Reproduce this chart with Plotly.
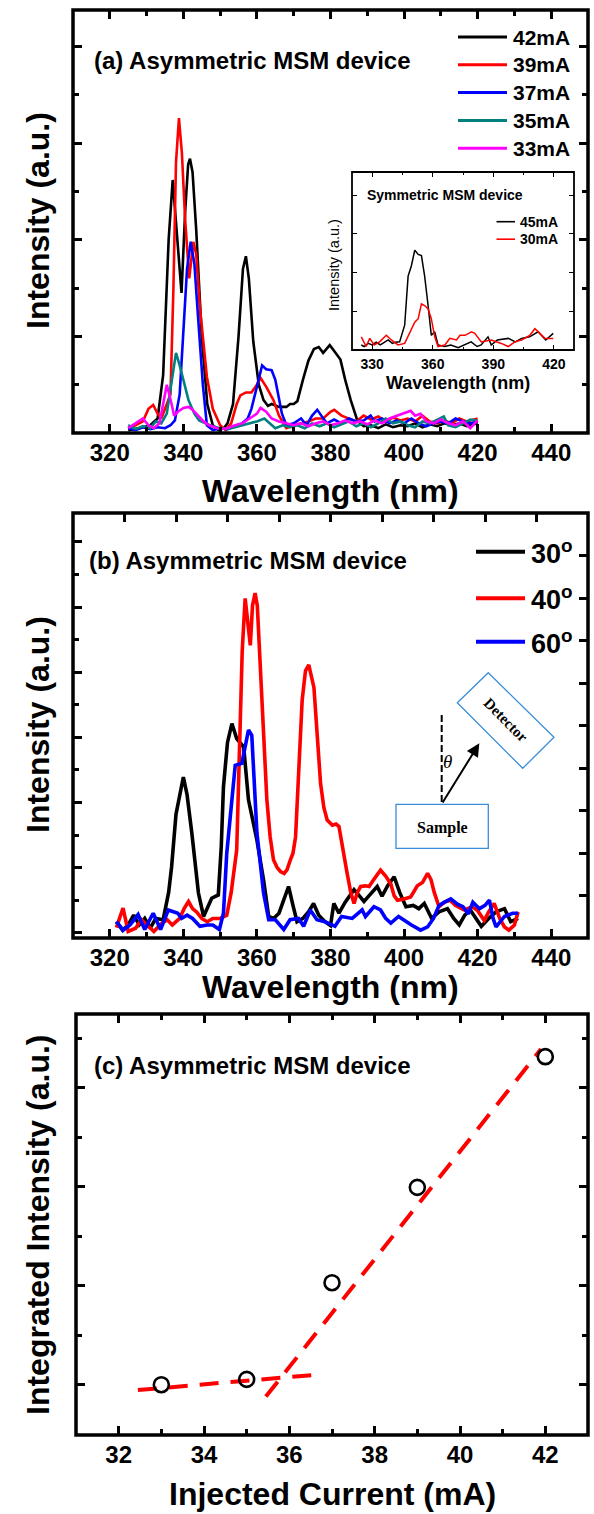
import plotly.graph_objects as go

W, H = 594, 1514
def px(x): return x / W
def py(y): return 1 - y / H

FONT = "Liberation Sans, Arial, sans-serif"
SERIF = "Liberation Serif, Times New Roman, serif"

# ---------------- Panel (a): current-dependent spectra ----------------
a_labels = ["42mA", "39mA", "37mA", "35mA", "33mA"]
a_colors = ["#000000", "#ff0000", "#0000ff", "#008080", "#ff00ff"]

wl_42 = [325, 328, 331, 333, 334.5, 336, 337.1, 338, 339.5, 340.5, 341.3, 341.8, 342.5, 343.5, 345, 346.5, 348, 349.5, 351, 352, 353.5, 355, 356.2, 357, 357.8, 359, 360.5, 361.8, 363, 364, 366, 368, 369, 370, 371, 372.5, 374, 375.5, 376.8, 378, 379.8, 381, 382.7, 384, 385.5, 387.3, 389, 391, 393, 395, 397, 399, 401, 403, 405, 407, 409, 411, 413, 415, 417, 420]
int_42 = [0.03, 0.05, 0.08, 0.15, 0.6, 2.0, 2.62, 2.2, 1.45, 2.3, 2.78, 2.84, 2.7, 2.1, 1.0, 0.3, 0.08, 0.03, 0.05, 0.1, 0.3, 1.0, 1.7, 1.83, 1.6, 0.95, 0.5, 0.34, 0.28, 0.3, 0.27, 0.27, 0.3, 0.3, 0.33, 0.55, 0.75, 0.87, 0.89, 0.83, 0.91, 0.85, 0.76, 0.55, 0.34, 0.13, 0.07, 0.08, 0.05, 0.09, 0.06, 0.08, 0.07, 0.1, 0.06, 0.09, 0.07, 0.1, 0.08, 0.1, 0.07, 0.1]

wl_39 = [325, 327, 329, 330.5, 331.8, 333, 334, 335, 336.5, 337.3, 338, 338.8, 339.6, 340.5, 341.6, 342.7, 343.5, 344.5, 346.4, 348, 350, 351.5, 353, 354.5, 355.5, 357, 358.5, 360, 361, 362.5, 364.5, 366, 368, 370, 372, 374, 376, 378, 380, 381, 383, 385, 387, 389, 391, 393, 395, 397, 399, 401, 403, 405, 407, 409, 411, 413, 415, 417, 420]
int_39 = [0.05, 0.08, 0.12, 0.25, 0.29, 0.2, 0.15, 0.25, 0.4, 1.5, 2.8, 3.26, 2.9, 2.2, 1.6, 1.98, 1.85, 1.3, 0.58, 0.25, 0.08, 0.03, 0.1, 0.3, 0.39, 0.42, 0.42, 0.5, 0.57, 0.48, 0.34, 0.18, 0.05, 0.08, 0.1, 0.12, 0.15, 0.15, 0.22, 0.24, 0.18, 0.15, 0.12, 0.18, 0.14, 0.17, 0.12, 0.16, 0.13, 0.15, 0.12, 0.18, 0.12, 0.1, 0.13, 0.1, 0.15, 0.12, 0.15]

wl_37 = [325, 327, 329, 331, 333, 335, 336.5, 337.7, 339, 340, 341, 342, 343, 344, 345.3, 346.4, 348, 350, 352, 354, 356, 357.5, 358.5, 360, 361.4, 362.5, 364, 365, 366.8, 368, 370, 372, 373.5, 375, 376.4, 377.5, 379, 381, 383, 385, 387, 389, 390.9, 392, 394, 396, 398, 400, 402, 404, 406, 408, 410, 412, 414, 416, 418, 420]
int_37 = [0.05, 0.03, 0.06, 0.04, 0.06, 0.05, 0.08, 0.13, 0.4, 1.0, 1.7, 1.98, 1.75, 1.2, 0.5, 0.08, 0.03, 0.05, 0.04, 0.07, 0.1, 0.15, 0.25, 0.48, 0.7, 0.66, 0.65, 0.55, 0.2, 0.08, 0.1, 0.15, 0.08, 0.18, 0.24, 0.18, 0.1, 0.14, 0.1, 0.15, 0.12, 0.13, 0.18, 0.12, 0.15, 0.1, 0.13, 0.1, 0.15, 0.1, 0.07, 0.1, 0.12, 0.1, 0.15, 0.12, 0.1, 0.12]

wl_35 = [325, 327, 329, 331, 332.5, 334, 335.5, 336.5, 338, 339, 340.3, 341.4, 343, 344.3, 346, 348, 350, 352, 354, 356, 358, 360, 362, 363.5, 365, 367, 369, 371, 373, 375, 377, 379, 381, 383, 385, 387, 389, 391, 393, 395, 397, 399, 401, 403, 405, 407, 409, 410.8, 412, 414, 416, 418, 420]
int_35 = [0.08, 0.04, 0.07, 0.05, 0.12, 0.1, 0.2, 0.45, 0.83, 0.7, 0.5, 0.34, 0.2, 0.13, 0.1, 0.07, 0.05, 0.04, 0.06, 0.08, 0.1, 0.12, 0.15, 0.1, 0.05, 0.08, 0.06, 0.08, 0.05, 0.1, 0.07, 0.1, 0.06, 0.09, 0.12, 0.07, 0.1, 0.06, 0.1, 0.15, 0.1, 0.12, 0.08, 0.06, 0.12, 0.1, 0.14, 0.17, 0.08, 0.06, 0.1, 0.14, 0.13]

wl_33 = [325, 327, 329, 330.5, 332, 333.5, 334.5, 335.5, 336.5, 337.5, 338.5, 340, 341.5, 342.5, 344, 345.5, 347, 348.5, 350, 352, 354, 356, 358, 360, 361, 362.5, 364, 366, 368, 370, 372, 374, 376, 378, 380, 382, 384, 386, 388, 390, 392, 394, 396, 398, 400, 401.8, 403, 404.5, 406, 408, 410, 412, 414, 416, 418, 420]
int_33 = [0.05, 0.1, 0.15, 0.08, 0.05, 0.1, 0.3, 0.5, 0.35, 0.18, 0.22, 0.26, 0.27, 0.24, 0.18, 0.12, 0.08, 0.06, 0.04, 0.05, 0.08, 0.1, 0.15, 0.2, 0.26, 0.22, 0.15, 0.12, 0.1, 0.08, 0.1, 0.07, 0.1, 0.12, 0.08, 0.1, 0.13, 0.1, 0.12, 0.09, 0.13, 0.1, 0.15, 0.18, 0.21, 0.23, 0.18, 0.2, 0.12, 0.1, 0.14, 0.1, 0.08, 0.12, 0.05, 0.13]

a_wl = [wl_42, wl_39, wl_37, wl_35, wl_33]
a_int = [int_42, int_39, int_37, int_35, int_33]

# ---------------- Inset: symmetric device ----------------
in_labels = ["45mA", "30mA"]
in_colors = ["#000000", "#ff0000"]
wl_45 = [324.6, 326, 328, 330, 332, 334, 336, 337.9, 340, 341.5, 343.6, 346.1, 347.8, 349.4, 351.1, 352.8, 354.4, 356, 357.7, 359.3, 361, 362.6, 366, 369, 372.6, 376, 379, 382, 384, 387.4, 389, 392, 397.4, 401, 404, 408, 412.2, 416, 419.7]
int_45 = [0.13, 0.09, 0.17, 0.13, 0.2, 0.13, 0.2, 0.26, 0.17, 0.2, 0.21, 0.64, 1.91, 2.17, 2.58, 2.47, 2.44, 1.91, 1.15, 0.38, 0.47, 0.13, 0.09, 0.13, 0.06, 0.13, 0.21, 0.09, 0.13, 0.34, 0.13, 0.26, 0.3, 0.21, 0.3, 0.34, 0.47, 0.26, 0.43]
wl_30 = [324.6, 327, 328.8, 331, 333.7, 337, 339.5, 342.8, 346.1, 348.6, 351.1, 352.8, 354.4, 356, 357.7, 359.3, 361, 362.6, 366, 368.5, 371.8, 373.5, 376, 379.2, 380.8, 384.1, 389, 394, 397.4, 400.7, 404, 408.1, 410.6, 413.1, 415.6, 419.7]
int_30 = [0.34, 0.09, 0.3, 0.13, 0.21, 0.38, 0.26, 0.13, 0.17, 0.43, 0.72, 0.81, 1.19, 1.15, 1.06, 0.81, 0.34, 0.09, 0.13, 0.3, 0.26, 0.38, 0.38, 0.47, 0.43, 0.21, 0.26, 0.17, 0.09, 0.21, 0.26, 0.38, 0.55, 0.43, 0.3, 0.3]
in_wl = [wl_45, wl_30]
in_int = [int_45, int_30]

# ---------------- Panel (b): angle-dependent spectra ----------------
b_labels = ["30<sup>o</sup>", "40<sup>o</sup>", "60<sup>o</sup>"]
b_colors = ["#000000", "#ff0000", "#0000ff"]
wl_30d = [321.8, 323.5, 325, 326.5, 328, 329.5, 331, 332.5, 334.5, 336, 336.8, 338, 340, 341, 342.3, 343.2, 344.1, 345.5, 346.5, 347.7, 349.5, 350.3, 350.9, 352, 353.2, 354.5, 356.4, 357.7, 360, 361.8, 363.2, 364.5, 366, 367.5, 368.6, 369.8, 370.9, 372.5, 374, 375.4, 376.8, 378.5, 380, 380.9, 382.3, 384, 386.4, 387.8, 389.1, 390.5, 392.7, 394, 395.5, 397.3, 398.8, 400.5, 402.5, 404, 405.5, 407.5, 409.5, 411.8, 413.5, 415, 416.5, 418, 419.5, 421, 423, 425, 427.3, 429, 431]
int_30d = [0.25, 0.12, 0.2, 0.35, 0.2, 0.3, 0.15, 0.3, 0.28, 0.7, 1.09, 1.9, 2.47, 2.2, 1.61, 1.1, 0.69, 0.33, 0.45, 0.61, 0.66, 1.4, 2.32, 3.0, 3.29, 3.06, 2.93, 2.12, 1.5, 0.89, 0.33, 0.3, 0.38, 0.6, 0.79, 0.5, 0.25, 0.3, 0.4, 0.53, 0.35, 0.25, 0.19, 0.53, 0.38, 0.55, 0.74, 0.65, 0.56, 0.65, 0.79, 0.64, 0.8, 0.94, 0.7, 0.48, 0.5, 0.45, 0.53, 0.3, 0.4, 0.45, 0.3, 0.2, 0.35, 0.43, 0.3, 0.18, 0.3, 0.4, 0.45, 0.25, 0.3]
wl_40d = [321.8, 323.6, 325, 327, 328.6, 330, 332, 334, 335.6, 337, 339, 340.2, 341.4, 342.5, 343.6, 345, 346.5, 348, 350, 351.8, 353, 354.5, 355.4, 356, 356.8, 357.5, 358.2, 358.8, 359.5, 360.1, 360.9, 361.8, 362.7, 363.6, 364.5, 365.5, 366.4, 367.4, 368.2, 369.1, 369.8, 370.5, 371.4, 372.3, 373.2, 374.1, 375.5, 376.4, 377.3, 378.2, 379.1, 380.5, 381.5, 382.3, 383.2, 384.5, 385.5, 386.4, 387.3, 388.2, 389.5, 390.5, 391.8, 393.6, 395, 396.4, 397.3, 398.2, 400, 401.8, 403.6, 405, 406.4, 407.3, 408.2, 409.5, 411, 412.5, 414, 416.4, 418.5, 420, 421.8, 423, 424.5, 426, 427.3, 428.5, 430, 431]
int_40d = [0.16, 0.46, 0.1, 0.15, 0.28, 0.2, 0.1, 0.22, 0.28, 0.2, 0.3, 0.45, 0.56, 0.45, 0.4, 0.3, 0.25, 0.3, 0.3, 0.35, 0.7, 1.35, 3.14, 4.4, 5.21, 4.9, 4.49, 5.1, 5.29, 5.1, 4.16, 3.0, 2.12, 1.55, 1.2, 1.08, 1.02, 0.99, 1.05, 1.2, 1.3, 1.55, 2.6, 3.65, 4.1, 4.19, 3.84, 3.1, 2.37, 2.0, 1.81, 1.73, 1.75, 1.71, 1.4, 1.0, 0.7, 0.53, 0.7, 0.79, 0.8, 0.79, 0.9, 1.04, 0.95, 0.83, 0.65, 0.58, 0.6, 0.63, 0.8, 0.85, 0.99, 0.9, 0.7, 0.48, 0.55, 0.58, 0.5, 0.43, 0.48, 0.42, 0.27, 0.4, 0.53, 0.3, 0.17, 0.12, 0.2, 0.4]
wl_60d = [321.8, 323.6, 325.5, 327.7, 329.5, 331.8, 333.8, 335.9, 337.5, 338.5, 339.5, 341, 342.5, 344.5, 346.5, 348, 349.8, 350.9, 351.8, 353, 354.1, 355.9, 356.8, 357.7, 358.6, 359.2, 360, 361, 361.8, 363.2, 365, 367.3, 369, 371.3, 372.7, 374.5, 376.3, 378.5, 381.2, 383, 385.9, 388.6, 389.5, 391.8, 393.6, 395, 396.4, 398.5, 400.5, 402, 404.5, 406.4, 408, 409.5, 411, 412.7, 414.5, 416, 417.5, 418.7, 420.5, 422, 423.2, 424.2, 425, 427.3, 429.5, 431]
int_60d = [0.25, 0.12, 0.2, 0.36, 0.13, 0.38, 0.13, 0.43, 0.4, 0.38, 0.3, 0.35, 0.3, 0.18, 0.2, 0.2, 0.13, 0.38, 1.3, 2.0, 2.65, 2.68, 2.95, 3.19, 3.11, 2.5, 1.61, 1.1, 0.69, 0.28, 0.28, 0.13, 0.28, 0.3, 0.18, 0.43, 0.28, 0.25, 0.18, 0.33, 0.3, 0.43, 0.33, 0.48, 0.43, 0.3, 0.23, 0.33, 0.25, 0.2, 0.12, 0.17, 0.3, 0.5, 0.55, 0.6, 0.52, 0.48, 0.37, 0.55, 0.45, 0.5, 0.58, 0.3, 0.17, 0.33, 0.38, 0.38]
b_wl = [wl_30d, wl_40d, wl_60d]
b_int = [int_30d, int_40d, int_60d]

# ---------------- Panel (c): integrated intensity ----------------
current_mA = [33, 35, 37, 39, 42]
integrated = [1.0, 1.054, 2.03, 2.993, 4.313]
fit_below_x = [32.45, 36.55]
fit_below_y = [0.946, 1.098]
fit_above_x = [35.45, 41.9]
fit_above_y = [0.88, 4.39]

x_ticks_wl = [320, 340, 360, 380, 400, 420, 440]
x_ticks_in = [330, 360, 390, 420]
x_ticks_c = [32, 34, 36, 38, 40, 42]

fig = go.Figure()

for lab, col, x, y in zip(a_labels, a_colors, a_wl, a_int):
    fig.add_trace(go.Scatter(x=x, y=y, mode="lines", name=lab, showlegend=False,
                             line=dict(color=col, width=2.6), xaxis="x", yaxis="y"))
for lab, col, x, y in zip(in_labels, in_colors, in_wl, in_int):
    fig.add_trace(go.Scatter(x=x, y=y, mode="lines", name=lab, showlegend=False,
                             line=dict(color=col, width=1.5), xaxis="x2", yaxis="y2"))
for lab, col, x, y in zip(b_labels, b_colors, b_wl, b_int):
    fig.add_trace(go.Scatter(x=x, y=y, mode="lines", name=lab, showlegend=False,
                             line=dict(color=col, width=3.6), xaxis="x3", yaxis="y3"))
# invisible anchors for the decorative top/right axes of panel (b)
fig.add_trace(go.Scatter(x=[5], y=[0.5], mode="markers", marker=dict(opacity=0), showlegend=False,
                         hoverinfo="skip", xaxis="x5", yaxis="y3"))
fig.add_trace(go.Scatter(x=[380], y=[5], mode="markers", marker=dict(opacity=0), showlegend=False,
                         hoverinfo="skip", xaxis="x3", yaxis="y5"))

fig.add_trace(go.Scatter(x=fit_below_x, y=fit_below_y, mode="lines", showlegend=False,
                         line=dict(color="#ff0000", width=4, dash="19px,12px"), xaxis="x4", yaxis="y4"))
fig.add_trace(go.Scatter(x=fit_above_x, y=fit_above_y, mode="lines", showlegend=False,
                         line=dict(color="#ff0000", width=4, dash="19px,12px"), xaxis="x4", yaxis="y4"))
fig.add_trace(go.Scatter(x=current_mA, y=integrated, mode="markers", showlegend=False,
                         marker=dict(symbol="circle-open", size=15, color="#000000", line=dict(width=2.6)),
                         xaxis="x4", yaxis="y4"))

tickfont = dict(family=FONT, size=24, color="black", weight="bold")
base_ax = dict(showline=False, ticks="inside", ticklen=9,
               tickwidth=2.5, tickcolor="black", showgrid=False, zeroline=False)
minor_kw = dict(ticklen=6, tickwidth=2.5, tickcolor="black", ticks="inside")

dom_a = dict(x=(73, 588), y=(10, 433))
dom_in = dict(x=(352, 574), y=(172, 350))
dom_b = dict(x=(73, 588), y=(513, 938))
dom_c = dict(x=(76, 588), y=(1014, 1435))

def xd(d): return [px(d["x"][0]), px(d["x"][1])]
def yd(d): return [py(d["y"][1]), py(d["y"][0])]

fig.update_layout(
    # Panel (a)
    xaxis=dict(**base_ax, domain=xd(dom_a), anchor="y", range=[310, 450],
               tickvals=x_ticks_wl, tickfont=tickfont, mirror="ticks", ticklabelstandoff=3,
               minor=dict(dtick=10, tick0=310, **minor_kw)),
    yaxis=dict(**base_ax, domain=yd(dom_a), anchor="x", range=[0, 4.38], dtick=1, tick0=0,
               showticklabels=False, mirror="ticks", minor=dict(dtick=0.5, **minor_kw)),
    # inset
    xaxis2=dict(showline=False, ticks="inside", ticklen=5, tickwidth=1.4,
                tickcolor="black", showgrid=False, zeroline=False, mirror="ticks",
                domain=xd(dom_in), anchor="y2", range=[320, 430], tickvals=x_ticks_in,
                tickfont=dict(family=FONT, size=14, color="black", weight="bold"), ticklabelstandoff=4,
                minor=dict(dtick=15, tick0=315, ticklen=3, tickwidth=1.4, tickcolor="black", ticks="inside")),
    yaxis2=dict(showline=False, ticks="inside", ticklen=5, tickwidth=1.4,
                tickcolor="black", showgrid=False, zeroline=False, mirror="ticks",
                domain=yd(dom_in), anchor="x2", range=[0, 4.6], dtick=1, tick0=0,
                showticklabels=False),
    # Panel (b)
    xaxis3=dict(**base_ax, domain=xd(dom_b), anchor="y3", range=[310, 450],
                tickvals=x_ticks_wl, tickfont=tickfont, ticklabelstandoff=3,
                minor=dict(dtick=10, tick0=310, **minor_kw)),
    yaxis3=dict(**base_ax, domain=yd(dom_b), anchor="x3", range=[0, 6.52], dtick=1, tick0=0.078,
                showticklabels=False, minor=dict(dtick=0.5, tick0=0.078, **minor_kw)),
    xaxis5=dict(**base_ax, overlaying="x3", side="top", anchor="y3", range=[0, 10], dtick=1,
                showticklabels=False),
    yaxis5=dict(**base_ax, overlaying="y3", side="right", anchor="x3", range=[0, 10], dtick=1,
                showticklabels=False),
    # Panel (c)
    xaxis4=dict(**base_ax, domain=xd(dom_c), anchor="y4", range=[31, 43], tickvals=x_ticks_c,
                tickfont=tickfont, mirror="ticks", ticklabelstandoff=3,
                minor=dict(dtick=1, tick0=31, **minor_kw)),
    yaxis4=dict(**base_ax, domain=yd(dom_c), anchor="x4", range=[0.492, 4.744], dtick=1, tick0=0,
                showticklabels=False, mirror="ticks", minor=dict(dtick=0.5, tick0=0, **minor_kw)),
)

ann = []
def text(x, y, s, size, xanchor="center", angle=0, family=FONT, bold=True, yanchor="middle"):
    ann.append(dict(x=px(x), y=py(y), xref="paper", yref="paper", text=(f"<b>{s}</b>" if bold else s),
                    showarrow=False, xanchor=xanchor, yanchor=yanchor, textangle=angle,
                    font=dict(family=family, size=size, color="black")))

# panel titles
text(92, 60, "(a) Asymmetric MSM device", 24, xanchor="left")
text(87, 560, "(b) Asymmetric MSM device", 24, xanchor="left")
text(92, 1065, "(c) Asymmetric MSM device", 24, xanchor="left")
# axis titles
text(330, 491, "Wavelength (nm)", 32)
text(330, 987, "Wavelength (nm)", 32)
text(332, 1494, "Injected Current (mA)", 32)
text(38, 221, "Intensity (a.u.)", 32, angle=-90)
text(38, 725, "Intensity (a.u.)", 32, angle=-90)
text(38, 1225, "Integrated Intensity (a.u.)", 32, angle=-90)
# inset texts
text(365, 195, "Symmetric MSM device", 14, xanchor="left")
text(458, 383, "Wavelength (nm)", 18)
text(334, 265, "Intensity (a.u.)", 14.5, angle=-90, bold=False)

shapes = []
# plot frames (paper-referenced so the stroke is not clipped by the plot area)
for d, lw in [(dom_a, 3.5), (dom_in, 1.8), (dom_b, 3.5), (dom_c, 3.5)]:
    shapes.append(dict(type="rect", xref="paper", yref="paper",
                       x0=px(d["x"][0]), x1=px(d["x"][1]), y0=py(d["y"][1]), y1=py(d["y"][0]),
                       line=dict(color="black", width=lw), layer="above"))

def legline(x0, x1, y, color, width):
    shapes.append(dict(type="line", xref="paper", yref="paper", x0=px(x0), x1=px(x1), y0=py(y), y1=py(y),
                       line=dict(color=color, width=width)))

# legend (a)
for i, (lab, col) in enumerate(zip(a_labels, a_colors)):
    yy = 37 + i * 27.8
    legline(458, 507, yy, col, 3)
    text(511, yy, lab, 21, xanchor="left")
# legend inset
for i, (lab, col) in enumerate(zip(in_labels, in_colors)):
    yy = 221.7 + i * 17.5
    legline(496.5, 515, yy, col, 1.6)
    text(517.5, yy, lab, 14, xanchor="left")
# legend (b)
for i, (lab, col) in enumerate(zip(b_labels, b_colors)):
    yy = [551.7, 598.3, 641.7][i]
    legline(476, 525, yy, col, 4)
    text(529, yy, lab, 27, xanchor="left")

# measurement geometry sketch in panel (b)
BLUE = "#3a8dd6"
shapes.append(dict(type="rect", xref="paper", yref="paper", x0=px(396), x1=px(488.3), y0=py(848.3), y1=py(804.3),
                   line=dict(color=BLUE, width=1.3), fillcolor="white"))
det = [(488.3, 672.7), (554, 737.3), (522.7, 768.3), (457.3, 702.7)]
path = "M " + " L ".join(f"{px(a):.5f},{py(b):.5f}" for a, b in det) + " Z"
shapes.append(dict(type="path", xref="paper", yref="paper", path=path, line=dict(color=BLUE, width=1.3),
                   fillcolor="white"))
shapes.append(dict(type="line", xref="paper", yref="paper", x0=px(441.7), x1=px(441.7), y0=py(715), y1=py(804),
                   line=dict(color="black", width=2, dash="7px,3px")))
text(442, 828, "Sample", 16, family=SERIF)
text(505.6, 720.3, "Detector", 15, family=SERIF, angle=45)
ann.append(dict(x=px(453.5), y=py(761.5), xref="paper", yref="paper", text="<i>θ</i>", showarrow=False,
                font=dict(family=SERIF, size=19, color="black")))
ann.append(dict(x=px(479.3), y=py(743.3), xref="paper", yref="paper", ax=-37.6, ay=60.7, axref="pixel",
                ayref="pixel", showarrow=True, arrowhead=2, arrowsize=1.3, arrowwidth=2, arrowcolor="black",
                text=""))

fig.update_layout(annotations=ann, shapes=shapes, width=W, height=H,
                  margin=dict(l=0, r=0, t=0, b=0), paper_bgcolor="white", plot_bgcolor="white",
                  font=dict(family=FONT, color="black"), showlegend=False)

fig.write_html("out.html", config={"displayModeBar": False},
               post_script="document.body.style.margin='0px';")
